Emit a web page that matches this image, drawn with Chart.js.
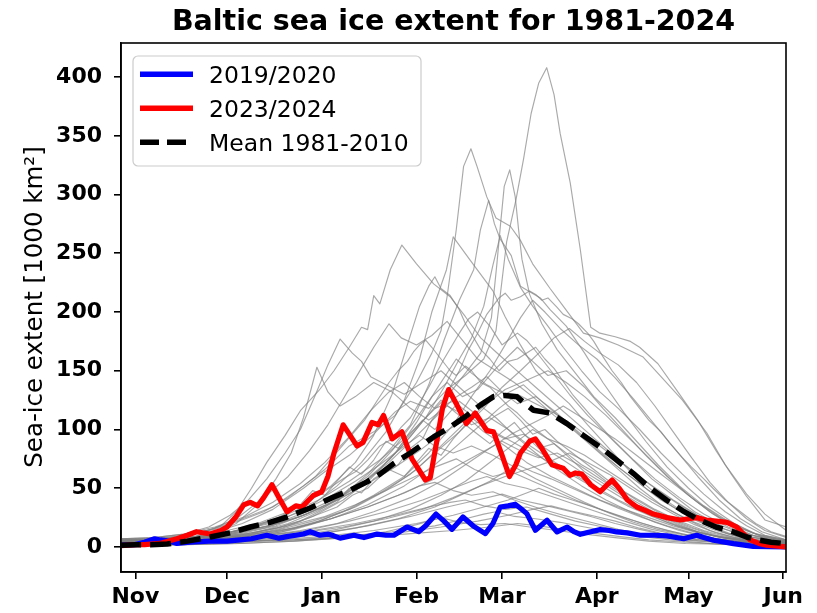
<!DOCTYPE html>
<html>
<head>
<meta charset="utf-8">
<title>Baltic sea ice extent</title>
<script src="https://cdn.jsdelivr.net/npm/chart.js@4.4.1/dist/chart.umd.min.js"></script>
<style>
  html, body { margin: 0; padding: 0; background: #fff; }
</style>
</head>
<body>
<canvas id="iceChart" width="817" height="613"></canvas>
<script>
// x is days since 1 Nov, y is extent in 1000 km2
const monthTicks = [0, 30, 61, 92, 120, 151, 181, 212];
const monthLabels = ['Nov', 'Dec', 'Jan', 'Feb', 'Mar', 'Apr', 'May', 'Jun'];
const yTicks = [0, 50, 100, 150, 200, 250, 300, 350, 400];

const season2020 = [[-5,1.5],[0,2],[3,4],[6.3,7],[8.2,6],[11,5],[13.6,3],[18,4],[24,5],[30,5],[34.3,6],[38,7],[43,10],[47,7.5],[50,9],[52.5,10],[55,11],[57.2,13],[60.4,10],[63,11],[64.9,9.5],[67,7.5],[71.5,10],[74.8,8],[79.1,11],[82,10],[84.6,10],[88.9,17],[92.7,13],[95,18],[98.4,28],[101,22],[103.6,15],[107.2,25.5],[110.5,18],[114.5,11.4],[117,20],[119.4,34],[122,35],[124.3,36.4],[126,33],[128.1,28.4],[130.9,14.2],[134.7,22.7],[138,12.8],[141.3,17],[143.5,13],[145.6,10.8],[149,13],[152.1,14.8],[155,14],[157.5,12.8],[161,12],[165.2,10],[170,10],[174,9.4],[179.4,7],[183.7,10],[186,8],[189.2,5.7],[195.7,2.9],[202.2,0.5],[213,0]];

const season2024 = [[-5,1],[0,2],[3,2],[8,3],[13.6,7],[17,10],[20,13],[24.5,11],[28,14],[30,17],[33,26],[35.5,36],[37.6,38],[40,35],[42,42],[44.7,53],[47,42],[49.6,30],[52.5,35],[54.5,34],[58.3,44],[61,47],[63,60],[65,80],[68,104],[70,96],[72.5,86],[74.5,89],[77.4,106],[79.5,104],[81.2,112],[84,92],[87.2,98],[90.5,75],[94.9,57],[96.5,59],[98.7,91],[100.5,118],[102.5,134],[105.2,121],[108.3,105],[111.2,114],[113,107],[115,99],[117.2,98],[120,78],[122.4,60],[124.5,70],[126,80],[129,90],[130.9,92],[132.5,86],[136.3,70],[140,67],[142.2,61],[144,63],[146.1,62],[149,53],[152.1,47],[154,52],[156,57],[158.6,49],[161,40],[164.1,34],[167,31],[169.5,28],[174,25],[178.3,23],[181,24],[183.7,25],[186.8,23],[190,22],[193.6,21],[196.8,17],[199,11],[201.2,6],[204,3],[206.6,1.5],[213,0]];

const mean8110 = [[-5,1.5],[0,2],[5,2],[10.4,2.5],[17,5],[24.5,8.5],[31,12],[37.6,17],[44,21],[49.6,25.5],[57,33],[64.9,42.6],[70,48],[75.8,55.4],[80,62],[84.5,71],[90,80],[97.6,93.7],[103,102],[108.5,112],[113,121],[117.2,128],[121,129],[124.9,127.8],[128,121],[130.3,116.4],[135.7,114],[141.2,105],[146,96],[152.1,85],[157,75],[163,62.5],[168,51],[173.9,39.8],[179,31],[184.8,22.7],[190,17],[195.7,12.8],[200,8.5],[204.4,5.7],[208,4],[212.9,2.9]];

// the other seasons 1981-2023
const greySeasons = [
  [[-5,4],[5,5],[15,7],[25,12],[35,20],[45,32],[55,50],[62,64],[70,78],[78,96],[85,115],[90,124],[96,118],[102,134],[108,146],[114,160],[118,184],[121.5,260],[124.5,295],[127,330],[129.5,369],[132,395],[134.6,408],[137,385],[139,352],[142.3,310],[145.6,253],[149,187],[152,182],[157,179],[162,175],[165,170],[171,156],[177,134],[184,108],[190,82],[195,62],[200,43],[206,23],[213,17]],
  [[-5,5],[5,6],[15,9],[25,15],[35,24],[45,34],[55,52],[62,66],[70,86],[78,98],[85,112],[92,140],[97,165],[100,184],[102,213],[105,270],[107.4,324],[109.8,339],[111.8,324],[115,298],[118,280],[122.7,273],[126,261],[130,241],[135.7,220],[140,205],[146.6,182],[152,178],[158,172],[166,162],[172,145],[179,125],[187,97],[193,70],[200,45],[206,28],[213,14]],
  [[-5,3],[8,4],[20,8],[30,12],[40,19],[50,28],[60,40],[70,56],[80,74],[88,92],[95,110],[102,128],[108,148],[113,165],[116.5,195],[118.3,241],[119.5,275],[120.7,307],[122.5,321],[124.3,298],[125.4,270],[126.5,245],[129,215],[133,190],[138,168],[144,148],[150,128],[157,110],[164,90],[171,70],[178,52],[186,35],[194,22],[202,12],[213,5]],
  [[-5,6],[5,7],[15,9],[22,13],[28,18],[33,30],[38,50],[43,72],[49,95],[54,116],[60,133],[65,150],[70,170],[74,187],[76,185],[78,214],[80,207],[83.4,236],[87.2,257],[92,241],[97.6,224],[103,213],[108,196],[113,178],[118,166],[124,152],[131,136],[138,120],[146,102],[153,86],[160,70],[168,54],[176,40],[184,27],[192,16],[200,9],[213,4]],
  [[-5,2],[10,3],[20,5],[30,8],[40,13],[50,20],[60,31],[68,44],[76,62],[84,85],[90,104],[96,138],[101,176],[106,210],[110.7,236],[112.9,270],[115.6,295],[117.5,275],[119.4,262],[123,248],[126,222],[132.5,212],[135.7,202],[141,188],[147,165],[153,140],[160,114],[167,90],[174,68],[181,50],[188,34],[196,20],[204,10],[213,5]],
  [[-5,4],[10,5],[20,8],[30,12],[40,18],[50,26],[58,36],[66,52],[74,72],[82,98],[88,125],[93,160],[97,200],[101.8,236],[104,264],[106.5,255],[109.6,244],[113,232],[117,218],[121,196],[126,172],[131,150],[136,136],[142,122],[148,104],[155,84],[162,64],[170,46],[178,32],[186,20],[194,11],[202,6],[213,3]],
  [[-5,3],[10,4],[22,7],[32,11],[42,16],[52,24],[62,34],[72,48],[80,66],[88,88],[95,110],[101,136],[106,160],[110,178],[114,205],[117,240],[119.4,265],[122,245],[126,221],[130,205],[135,188],[140,170],[146,150],[152,132],[158,118],[165,100],[172,80],[179,62],[186,45],[193,30],[200,18],[206,10],[213,6]],
  [[-5,5],[8,6],[18,10],[26,16],[34,26],[42,42],[50,60],[57,82],[63,104],[68,126],[73,148],[78,170],[83,190],[87,178],[92,172],[97,180],[102,192],[107,176],[112,160],[118,150],[124,140],[130,128],[137,112],[144,98],[151,82],[158,66],[165,50],[172,36],[180,24],[188,14],[196,8],[213,3]],
  [[-5,7],[6,8],[16,11],[24,17],[31,27],[37,40],[43,58],[49,80],[54,100],[59,130],[63,155],[67,177],[71,165],[74,158],[77,145],[82,138],[88,130],[94,140],[100,150],[106,136],[112,122],[118,110],[124,95],[131,80],[138,66],[146,52],[154,40],[162,30],[170,21],[178,14],[186,9],[196,5],[213,2]],
  [[-5,3],[8,4],[18,7],[26,12],[33,20],[40,36],[46,58],[51,80],[55,110],[59.4,153],[63,132],[67,120],[72,128],[78,140],[84,132],[90,118],[96,108],[102,120],[108,112],[114,98],[121,86],[128,72],[136,60],[144,50],[152,40],[160,32],[168,25],[176,18],[184,12],[194,7],[213,3]],
  [[-5,4],[10,5],[22,8],[34,14],[46,24],[56,38],[64,52],[72,72],[78,95],[84,130],[89,172],[93,205],[96,222],[98,230],[100,220],[103,214],[106,202],[108,190],[113,168],[116,160],[119,150],[122,158],[125,160],[131,170],[134,160],[137,152],[143,130],[149,112],[156,92],[163,74],[170,58],[178,42],[186,28],[194,17],[202,10],[213,5]],
  [[-5,3],[10,4],[22,6],[34,10],[46,16],[56,24],[62,30],[66,34],[71,44],[76,50],[81,62],[86,70],[90,84],[94,92],[97,108],[100,118],[103,136],[106,150],[109,168],[112,182],[115,198],[117,205],[119,212],[121,216],[123,210],[126,213],[129,218],[131,215],[133,210],[135,212],[138,204],[140,198],[143,194],[145,190],[148,182],[150,175],[153,162],[156,150],[159,140],[162,128],[165,118],[168,108],[172,98],[175,88],[179,76],[182,68],[186,58],[189,50],[193,40],[196,34],[200,26],[203,20],[208,13],[213,9]],
  [[-5,2],[12,3],[24,5],[36,8],[48,13],[58,20],[68,30],[78,44],[88,60],[96,80],[104,104],[110,128],[116,150],[121,172],[126,195],[130,210],[134,200],[139,186],[145,172],[151,160],[157,144],[163,126],[170,104],[177,82],[184,60],[191,40],[198,24],[205,13],[213,6]],
  [[-5,5],[8,6],[20,9],[30,14],[40,20],[50,30],[60,44],[68,58],[72,64],[76,74],[80,86],[84,92],[87,102],[90,110],[96,136],[101,160],[106,182],[109,194],[112,200],[114,194],[116,188],[120,172],[122,176],[125,182],[128,176],[130,170],[136,150],[142,130],[148,112],[155,94],[162,76],[169,58],[176,44],[183,30],[190,20],[198,12],[213,4]],
  [[-5,3],[10,4],[22,6],[34,9],[46,14],[58,22],[70,32],[80,46],[90,62],[98,80],[106,98],[114,118],[120,136],[126,150],[132,165],[137,178],[142,186],[147,175],[152,165],[158,155],[164,140],[170,120],[176,98],[182,76],[188,55],[194,38],[200,24],[206,14],[213,8]],
  [[-5,6],[6,7],[16,10],[26,15],[36,24],[42,30],[46,36],[50,42],[55,52],[59,60],[63,72],[67,84],[71,96],[75,108],[79,124],[83,140],[86,150],[89,158],[91,166],[93,172],[95,176],[97,170],[100,160],[103,150],[105,146],[108,154],[110,150],[113,140],[116,136],[119,128],[122,120],[125,114],[128,106],[131,100],[135,92],[138,86],[142,78],[146,70],[150,64],[154,56],[158,50],[162,44],[166,38],[170,32],[174,27],[178,22],[182,18],[186,14],[190,11],[195,8],[200,6],[213,3]],
  [[-5,4],[10,5],[22,8],[34,12],[46,20],[56,30],[66,42],[76,60],[84,82],[91,106],[97,128],[102,140],[107,128],[112,134],[118,152],[125,170],[130,158],[135,146],[141,150],[147,136],[153,118],[160,98],[167,78],[174,60],[181,44],[188,30],[195,19],[203,11],[213,6]],
  [[-5,2],[12,3],[24,5],[36,9],[48,16],[58,26],[68,40],[77,58],[85,80],[92,106],[98,132],[105,160],[110,148],[115,138],[121,130],[127,138],[133,124],[140,108],[147,92],[154,76],[161,62],[168,48],[176,34],[184,22],[192,13],[200,7],[213,3]],
  [[-5,3],[12,4],[24,6],[36,9],[48,14],[60,22],[72,34],[82,48],[92,66],[100,86],[108,106],[115,122],[121,134],[128,142],[135,150],[141,140],[147,128],[154,112],[161,94],[168,76],[175,58],[182,42],[189,28],[196,17],[203,9],[213,4]],
  [[-5,5],[8,6],[20,8],[32,12],[44,18],[54,26],[64,38],[74,54],[83,72],[91,92],[98,110],[104,126],[110,136],[115,145],[120,132],[125,122],[131,128],[137,116],[144,100],[151,84],[158,68],[165,54],[172,40],[180,28],[188,18],[196,10],[213,4]],
  [[-5,7],[6,8],[16,11],[26,17],[36,26],[45,38],[54,54],[62,72],[70,94],[77,116],[83,132],[88,140],[93,128],[98,118],[104,124],[110,112],[116,100],[123,90],[130,80],[137,70],[145,58],[153,46],[161,35],[169,26],[177,18],[185,12],[194,7],[213,3]],
  [[-5,2],[12,3],[26,5],[40,9],[52,15],[64,24],[76,36],[88,52],[98,70],[106,88],[113,104],[119,118],[125,130],[131,122],[137,114],[143,104],[150,90],[157,76],[164,62],[171,48],[178,36],[185,25],[192,16],[200,9],[213,4]],
  [[-5,4],[10,5],[22,7],[34,11],[46,18],[56,28],[66,40],[75,56],[83,74],[90,94],[95,110],[100,125],[105,114],[110,104],[116,110],[122,100],[128,88],[135,76],[142,64],[150,52],[158,40],[166,30],[174,21],[182,14],[190,9],[200,5],[213,2]],
  [[-5,3],[12,4],[26,6],[40,9],[54,14],[66,20],[78,30],[90,42],[100,56],[108,70],[116,84],[123,96],[129,104],[135,112],[140,120],[145,112],[151,102],[157,92],[163,80],[170,66],[177,52],[184,38],[191,26],[198,16],[205,9],[213,5]],
  [[-5,5],[8,6],[20,8],[32,12],[44,18],[56,28],[66,40],[76,54],[85,68],[93,82],[100,96],[105,104],[110,110],[115,100],[121,92],[127,96],[133,86],[140,74],[147,62],[154,50],[161,39],[168,29],[176,20],[184,13],[192,8],[213,3]],
  [[-5,2],[12,3],[26,4],[40,6],[54,10],[66,15],[78,22],[90,32],[100,44],[108,56],[115,70],[121,82],[126,92],[130,100],[135,92],[141,86],[147,78],[154,66],[161,54],[168,42],[175,31],[182,22],[190,14],[198,8],[213,3]],
  [[-5,6],[8,7],[20,9],[32,13],[44,20],[54,30],[63,42],[72,56],[80,70],[87,84],[93,95],[98,86],[104,80],[110,86],[117,78],[124,68],[131,58],[139,48],[147,38],[155,29],[163,21],[171,15],[180,10],[190,6],[213,2]],
  [[-5,3],[12,4],[26,6],[40,10],[52,16],[64,24],[76,34],[88,46],[98,58],[106,70],[113,80],[120,90],[126,82],[132,76],[138,80],[145,70],[152,58],[159,46],[166,35],[173,25],[181,17],[189,10],[197,6],[213,2]],
  [[-5,4],[12,5],[26,6],[40,8],[54,12],[68,17],[82,24],[94,32],[104,42],[113,52],[121,60],[128,66],[135,72],[142,80],[148,72],[155,62],[162,50],[169,38],[176,28],[183,19],[190,12],[198,7],[213,3]],
  [[-5,5],[10,6],[24,8],[38,12],[50,18],[62,26],[72,36],[82,48],[90,58],[98,68],[105,75],[111,66],[117,60],[123,64],[130,56],[137,48],[145,39],[153,31],[161,24],[170,17],[179,11],[188,7],[213,2]],
  [[-5,1],[12,2],[28,3],[44,6],[58,10],[72,16],[86,24],[98,34],[108,46],[116,56],[121,64],[125,70],[130,64],[136,58],[143,50],[150,42],[158,33],[166,25],[174,18],[182,12],[190,7],[200,4],[213,1]],
  [[-5,3],[12,4],[28,6],[42,9],[56,14],[70,22],[82,30],[94,40],[104,50],[110,56],[115,60],[121,54],[128,50],[135,44],[143,37],[151,30],[160,22],[169,15],[178,10],[188,6],[213,2]],
  [[-5,6],[10,7],[24,8],[38,11],[52,16],[64,24],[76,34],[86,44],[93,52],[98,55],[104,48],[110,44],[117,47],[124,40],[132,33],[140,27],[149,21],[158,15],[167,10],[177,7],[190,4],[213,1]],
  [[-5,2],[14,3],[30,4],[46,6],[62,9],[78,14],[92,20],[104,27],[114,34],[122,40],[128,46],[132,50],[137,45],[143,40],[150,34],[158,27],[166,20],[174,14],[183,9],[192,5],[213,2]],
  [[-5,4],[14,5],[30,6],[46,8],[62,12],[76,18],[90,26],[102,34],[112,40],[120,45],[126,40],[133,36],[141,31],[149,26],[157,20],[165,15],[174,10],[184,6],[213,2]],
  [[-5,7],[10,7],[26,8],[42,10],[58,14],[72,20],[85,27],[96,34],[103,38],[108,40],[114,35],[121,32],[128,34],[136,28],[144,22],[153,17],[162,12],[172,8],[184,5],[213,1]],
  [[-5,1],[16,2],[34,3],[52,5],[70,8],[86,12],[100,17],[112,22],[122,27],[130,32],[136,35],[142,31],[149,27],[157,22],[165,16],[173,11],[182,7],[193,4],[213,1]],
  [[-5,3],[16,3],[34,4],[52,6],[68,9],[84,13],[98,18],[108,24],[114,28],[118,30],[124,26],[131,24],[139,21],[147,17],[156,13],[165,9],[175,6],[188,3],[213,1]],
  [[-5,2],[16,2],[34,3],[52,5],[68,8],[82,13],[92,19],[100,25],[106,21],[113,19],[121,20],[129,17],[138,14],[147,11],[157,8],[168,5],[180,3],[213,1]],
  [[-5,4],[16,4],[34,5],[52,6],[70,8],[88,11],[104,14],[116,17],[125,20],[132,18],[140,15],[149,12],[158,9],[168,6],[180,4],[195,2],[213,1]],
  [[-5,5],[10,6],[20,8],[30,12],[40,18],[48,26],[54,36],[58,48],[62,44],[66,56],[70,68],[74,62],[78,74],[82,90],[86,84],[90,96],[94,108],[98,100],[102,112],[106,124],[110,116],[114,104],[118,112],[122,118],[126,108],[130,96],[134,100],[138,90],[143,80],[148,70],[153,60],[158,50],[164,40],[170,31],[176,23],[183,16],[190,10],[198,6],[213,3]],
  [[-5,3],[12,4],[24,6],[36,10],[46,16],[54,22],[60,30],[66,38],[70,50],[74,46],[78,58],[83,66],[88,60],[92,72],[96,84],[100,78],[104,92],[108,104],[112,96],[116,88],[120,98],[124,106],[128,94],[132,84],[137,88],[142,76],[147,64],[152,56],[158,46],[164,36],[170,28],[177,20],[184,13],[192,8],[200,5],[213,2]]
];

const FONT = "'DejaVu Sans', 'Liberation Sans', sans-serif";

function toPoints(pairs) {
    return pairs.map(p => ({ x: p[0], y: p[1] }));
}

// legend entries drawn by hand, matplotlib style box in the upper left
const legendItems = [
    { label: '2019/2020', color: '#0000ff', dash: [] },
    { label: '2023/2024', color: '#ff0000', dash: [] },
    { label: 'Mean 1981-2010', color: '#000000', dash: [19, 8] }
];

const decorPlugin = {
    id: 'decor',
    afterDraw(chart) {
        const ctx = chart.ctx;
        const a = chart.chartArea;

        // frame
        ctx.save();
        ctx.strokeStyle = '#000';
        ctx.lineWidth = 1.6;
        ctx.strokeRect(a.left, a.top, a.right - a.left, a.bottom - a.top);
        ctx.restore();

        // title
        ctx.save();
        ctx.fillStyle = '#000';
        ctx.font = 'bold 28.5px ' + FONT;
        ctx.textAlign = 'center';
        ctx.textBaseline = 'alphabetic';
        ctx.fillText('Baltic sea ice extent for 1981-2024', (a.left + a.right) / 2, 30);
        ctx.restore();

        // y axis label
        ctx.save();
        ctx.fillStyle = '#000';
        ctx.font = '24.5px ' + FONT;
        ctx.translate(42, 307);
        ctx.rotate(-Math.PI / 2);
        ctx.textAlign = 'center';
        ctx.textBaseline = 'alphabetic';
        ctx.fillText('Sea-ice extent [1000 km²]', 0, 0);
        ctx.restore();

        // legend
        const bx = 133, by = 56, bw = 288, bh = 110, r = 5;
        ctx.save();
        ctx.beginPath();
        ctx.moveTo(bx + r, by);
        ctx.arcTo(bx + bw, by, bx + bw, by + bh, r);
        ctx.arcTo(bx + bw, by + bh, bx, by + bh, r);
        ctx.arcTo(bx, by + bh, bx, by, r);
        ctx.arcTo(bx, by, bx + bw, by, r);
        ctx.closePath();
        ctx.fillStyle = 'rgba(255,255,255,0.8)';
        ctx.fill();
        ctx.strokeStyle = '#cccccc';
        ctx.lineWidth = 1.2;
        ctx.stroke();

        ctx.font = '23.5px ' + FONT;
        ctx.textAlign = 'left';
        ctx.textBaseline = 'alphabetic';
        legendItems.forEach((item, i) => {
            const ly = 74.3 + i * 34;
            ctx.beginPath();
            ctx.setLineDash(item.dash);
            ctx.strokeStyle = item.color;
            ctx.lineWidth = 5.5;
            ctx.moveTo(140, ly);
            ctx.lineTo(193, ly);
            ctx.stroke();
            ctx.setLineDash([]);
            ctx.fillStyle = '#000';
            ctx.fillText(item.label, 209, ly + 8.4);
        });
        ctx.restore();
    }
};

const datasets = [
    {
        label: 'Mean 1981-2010',
        data: toPoints(mean8110),
        borderColor: '#000000',
        borderWidth: 5.5,
        borderDash: [21, 9],
        order: 0
    },
    {
        label: '2023/2024',
        data: toPoints(season2024),
        borderColor: '#ff0000',
        borderWidth: 5.2,
        order: 1
    },
    {
        label: '2019/2020',
        data: toPoints(season2020),
        borderColor: '#0000ff',
        borderWidth: 5.2,
        order: 2
    }
];

greySeasons.forEach((s, i) => {
    datasets.push({
        label: 'grey' + i,
        data: toPoints(s),
        borderColor: 'rgba(128,128,128,0.68)',
        borderWidth: 1.15,
        order: 3
    });
});

const ctxIce = document.getElementById('iceChart').getContext('2d');
const iceChart = new Chart(ctxIce, {
    type: 'line',
    data: { datasets: datasets },
    options: {
        responsive: false,
        animation: false,
        layout: { padding: { top: 43, right: 31, left: 0, bottom: 0 } },
        elements: {
            point: { radius: 0 },
            line: { tension: 0, borderJoinStyle: 'round', borderCapStyle: 'butt' }
        },
        plugins: {
            legend: { display: false },
            title: { display: false },
            tooltip: { enabled: false }
        },
        scales: {
            x: {
                type: 'linear',
                min: -4.7,
                max: 212.9,
                afterFit: s => { s.height = 41; },
                afterBuildTicks: s => { s.ticks = monthTicks.map(v => ({ value: v })); },
                ticks: {
                    callback: v => monthLabels[monthTicks.indexOf(v)],
                    font: { family: FONT, size: 22, weight: 'bold' },
                    color: '#000',
                    padding: 5,
                    maxRotation: 0,
                    autoSkip: false
                },
                grid: { drawOnChartArea: false, drawTicks: true, tickLength: 7, color: '#000', lineWidth: 1.6 },
                border: { display: true, color: '#000', width: 1.6 }
            },
            y: {
                type: 'linear',
                min: -21.3,
                max: 429,
                afterFit: s => { s.width = 121; },
                afterBuildTicks: s => { s.ticks = yTicks.map(v => ({ value: v })); },
                ticks: {
                    font: { family: FONT, size: 22, weight: 'bold' },
                    color: '#000',
                    padding: 12
                },
                grid: { drawOnChartArea: false, drawTicks: true, tickLength: 7, color: '#000', lineWidth: 1.6 },
                border: { display: true, color: '#000', width: 1.6 }
            }
        }
    },
    plugins: [decorPlugin]
});
</script>
</body>
</html>
